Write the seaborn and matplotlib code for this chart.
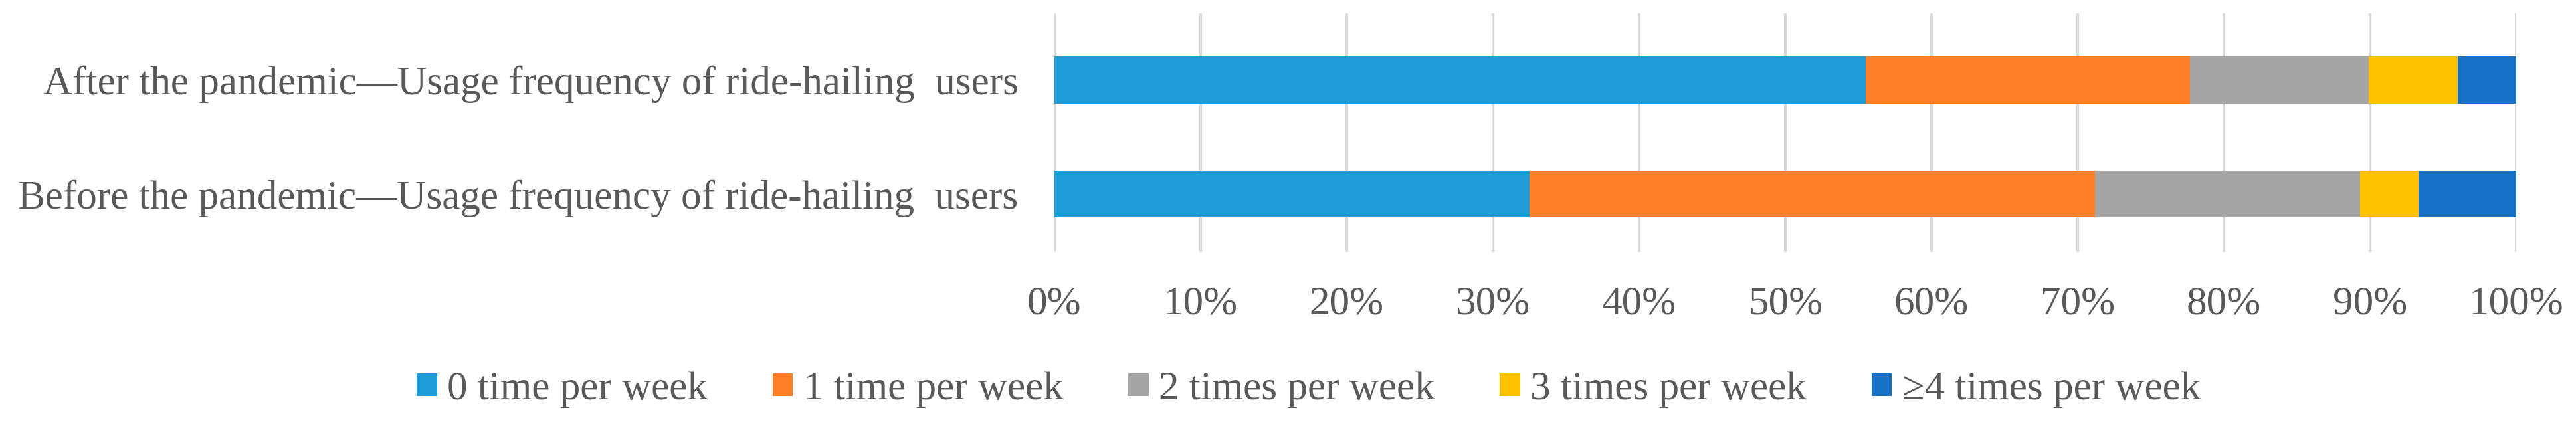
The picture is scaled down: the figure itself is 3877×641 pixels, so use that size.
"""Stacked 100% bars: ride-hailing usage frequency before/after the pandemic."""

import numpy as np
import pandas as pd
import seaborn as sns
import matplotlib.pyplot as plt
from matplotlib.patches import Patch

sns.set_theme(style="white")
plt.rcParams["font.family"] = ["Liberation Serif", "DejaVu Serif"]

groups = ["After the pandemic\u2014Usage frequency of ride-hailing  users",
          "Before the pandemic\u2014Usage frequency of ride-hailing  users"]
levels = ["0 time per week", "1 time per week", "2 times per week",
          "3 times per week", "\u22654 times per week"]
after = [55.5, 22.2, 12.2, 6.1, 4.0]
before = [32.5, 38.7, 18.1, 4.0, 6.7]
colors = ["#1E9CD7", "#FF7F27", "#A5A5A5", "#FFC000", "#1772C6"]

df = pd.DataFrame({"group": groups, **{lv: [a, b] for lv, a, b in zip(levels, after, before)}})
cum = df[levels].cumsum(axis=1)

fig = plt.figure(figsize=(38.77, 6.41), dpi=100)
ax = fig.add_axes([0.4093, 0.4087, 0.5675, 0.5601])

# draw from the longest cumulative layer down so the earlier ones sit on top
for lv, c in reversed(list(zip(levels, colors))):
    sns.barplot(x=cum[lv], y=df["group"], orient="h", color=c, width=0.41,
                saturation=1, edgecolor="none", linewidth=0, ax=ax, zorder=3)

ax.set_xlim(0, 100)
ax.set_ylim(1.507, -0.586)
ax.set_xticks(np.arange(0, 101, 10))
ax.set_xticklabels([f"{v}%" for v in range(0, 101, 10)])
ax.xaxis.grid(True, color="#D9D9D9", linewidth=3, zorder=0)
ax.yaxis.grid(False)
ax.set_axisbelow(True)
for s in ax.spines.values():
    s.set_visible(False)
ax.set_xlabel("")
ax.set_ylabel("")
ax.tick_params(axis="x", length=0, pad=37, labelsize=44, labelcolor="#595959")
ax.tick_params(axis="y", length=0, pad=39, labelsize=44, labelcolor="#595959")

handles = [Patch(facecolor=c, edgecolor="none") for c in colors]
fig.legend(handles, levels, loc="center", bbox_to_anchor=(0.508, 0.086), ncol=5,
           frameon=False, fontsize=44, labelcolor="#595959", handlelength=0.5,
           handleheight=0.5, handletextpad=0.25, columnspacing=1.6)

fig.savefig("out.png", dpi=100)
